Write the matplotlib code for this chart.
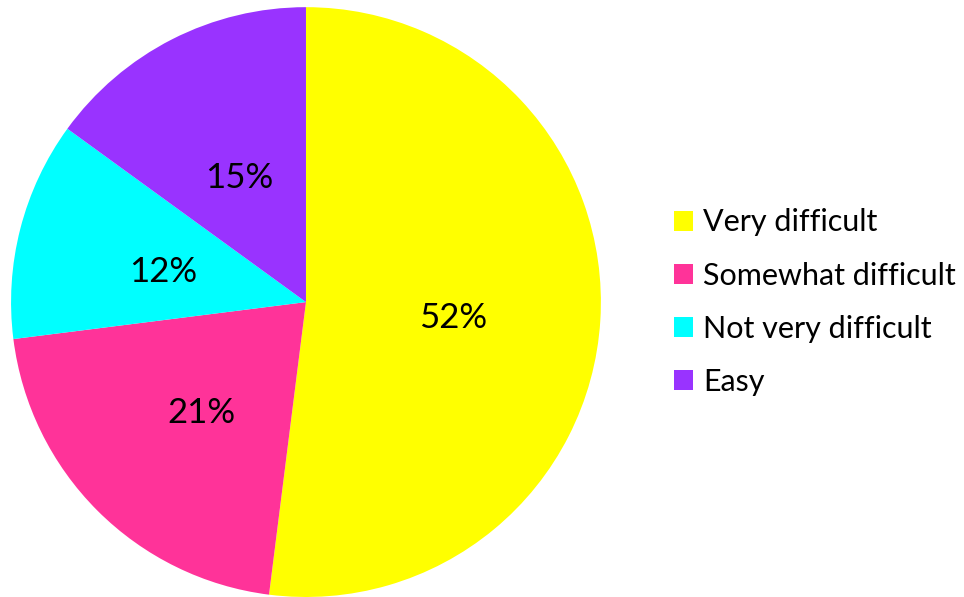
import matplotlib
matplotlib.use("Agg")
import matplotlib.pyplot as plt
from matplotlib.transforms import ScaledTranslation

categories = ["Very difficult", "Somewhat difficult", "Not very difficult", "Easy"]
values = [52, 21, 12, 15]
colors = ["#FFFF00", "#FF3399", "#00FFFF", "#9933FF"]

plt.rcParams['font.family'] = ['Lato', 'DejaVu Sans']

fig = plt.figure(figsize=(9.64, 5.97), dpi=100)
ax = fig.add_axes([0.0114, 0.0, 0.612, 0.988])
wedges, texts, autotexts = ax.pie(values, colors=colors, startangle=90, counterclock=False,
                                  autopct='%d%%', pctdistance=0.5,
                                  wedgeprops=dict(linewidth=0))
shift = ScaledTranslation(0, -0.07, fig.dpi_scale_trans)
for t in autotexts:
    t.set_fontsize(25)
    t.set_color('black')
    t.set_transform(ax.transData + shift)
ax.set_xlim(-1, 1)
ax.set_ylim(-1, 1)
ax.set_aspect('equal')

fig.legend(wedges, categories, loc='center left', bbox_to_anchor=(0.699, 0.494),
           frameon=False, fontsize=22, handlelength=0.62, handleheight=0.62,
           handletextpad=0.35, labelspacing=0.82, borderaxespad=0, borderpad=0)

fig.savefig("out.png", dpi=100)
